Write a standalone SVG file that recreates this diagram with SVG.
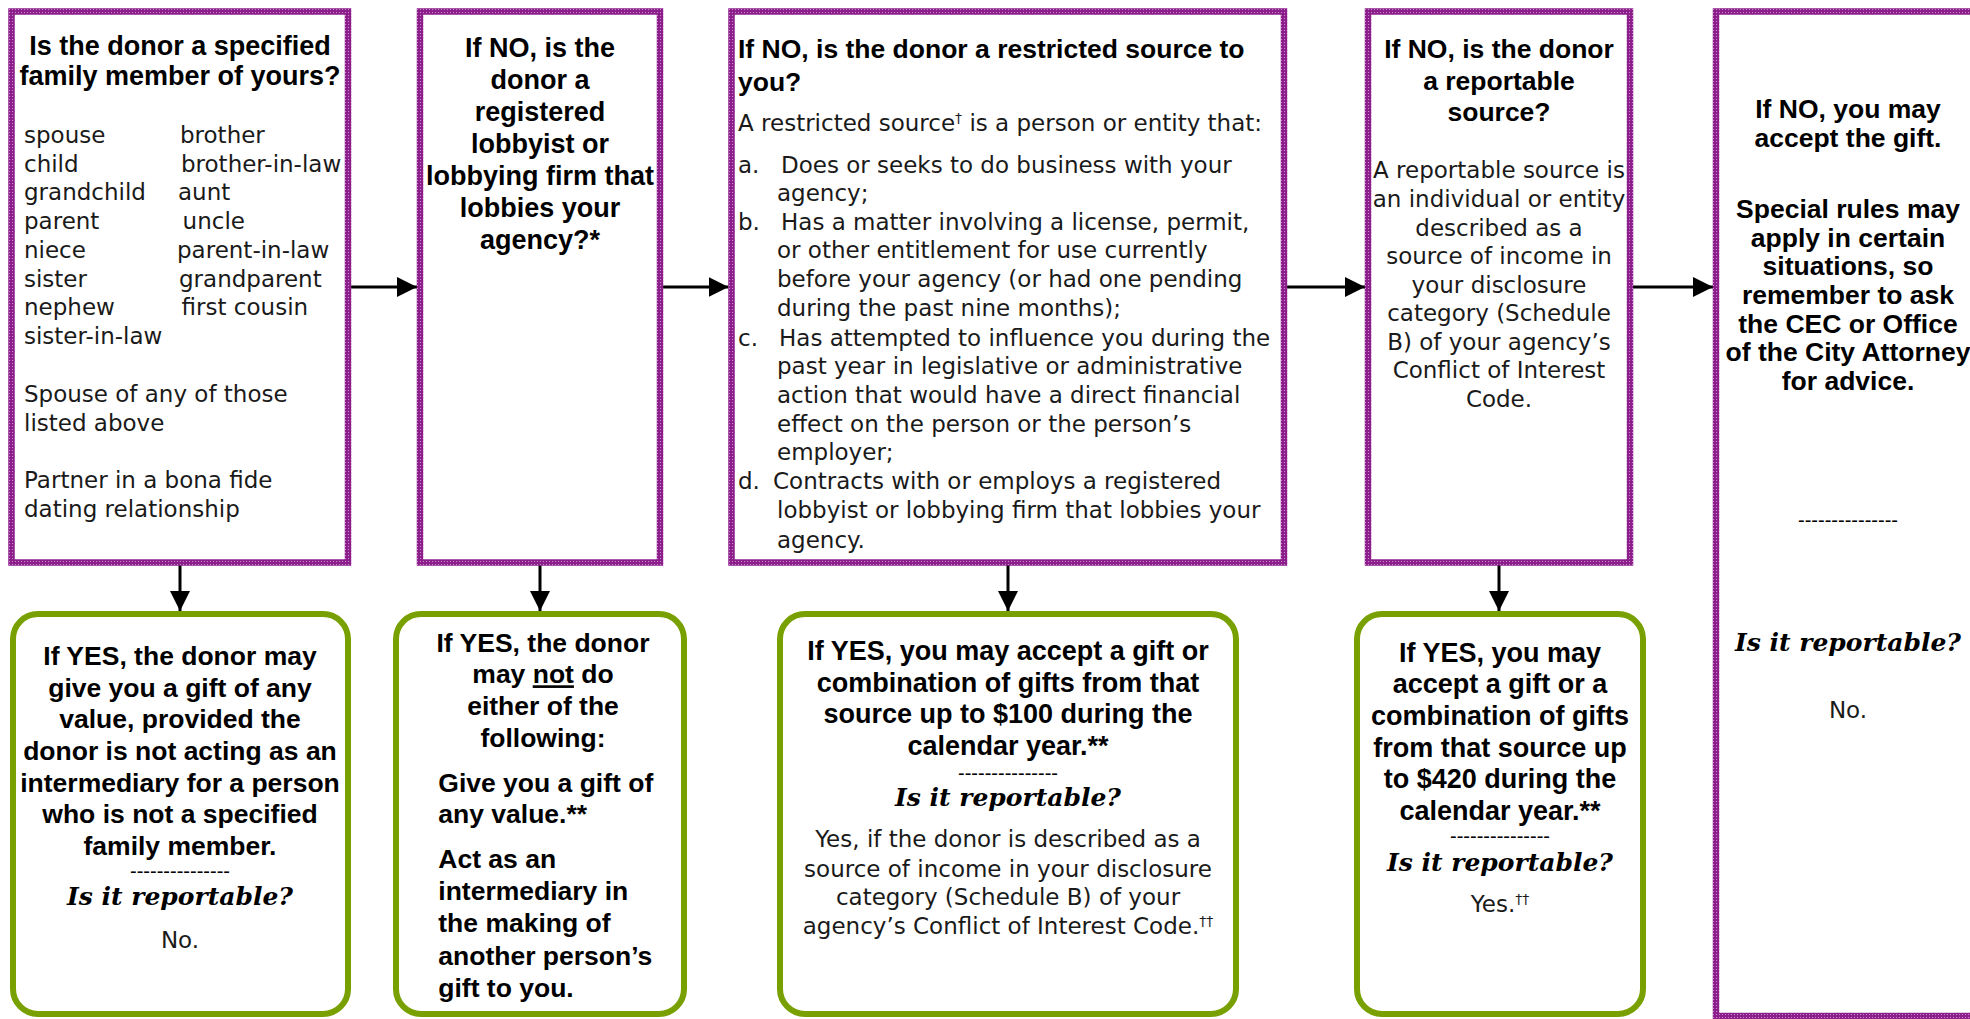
<svg xmlns="http://www.w3.org/2000/svg" width="1970" height="1019" viewBox="0 0 1970 1019">
<defs>
<pattern id="pp" width="3" height="3" patternUnits="userSpaceOnUse"><rect width="3" height="3" fill="#8c1f8c"/><rect width="1" height="1" fill="#c98ec9"/></pattern>
<marker id="ah" markerUnits="userSpaceOnUse" markerWidth="20" markerHeight="20" refX="20" refY="10" orient="auto"><path d="M0,0 L20,10 L0,20 Z" fill="#000"/></marker>
</defs>
<style>
.q{fill:#fff;stroke:url(#pp);stroke-width:6.5}
.g{fill:#fff;stroke:#78a000;stroke-width:6}
.h{font-family:"Liberation Sans",Arial,sans-serif;font-weight:bold;font-size:26.5px;fill:#000}
.b{font-family:"DejaVu Sans",sans-serif;font-size:23px;fill:#1a1a1a}
.r{font-family:"DejaVu Serif",serif;font-weight:bold;font-style:italic;font-size:25px;fill:#000}
.d{font-family:"Liberation Sans",sans-serif;font-size:20px;fill:#000}
.c{text-anchor:middle}
.s{font-size:14px}
.conn line{stroke:#000;stroke-width:3;fill:none;marker-end:url(#ah)}
</style>
<rect width="1970" height="1019" fill="#fff"/>

<g id="connectors" class="conn">
<line x1="351" y1="287" x2="417" y2="287"/>
<line x1="663" y1="287" x2="728.5" y2="287"/>
<line x1="1287" y1="287" x2="1365" y2="287"/>
<line x1="1633" y1="287" x2="1713" y2="287"/>
<line x1="180" y1="565" x2="180" y2="611"/>
<line x1="540" y1="565" x2="540" y2="611"/>
<line x1="1008" y1="565" x2="1008" y2="611"/>
<line x1="1499" y1="565" x2="1499" y2="611"/>
</g>

<g id="q1">
<rect class="q" x="11.5" y="11.5" width="336.5" height="551"/>
<text class="h c" x="180" y="55" style="font-size:27px">Is the donor a specified</text>
<text class="h c" x="180" y="85" style="font-size:27px">family member of yours?</text>
<text class="b" x="24" y="143">spouse</text><text class="b" x="180" y="143">brother</text>
<text class="b" x="24" y="171.7">child</text><text class="b" x="181" y="171.7">brother-in-law</text>
<text class="b" x="24" y="200.4">grandchild</text><text class="b" x="178" y="200.4">aunt</text>
<text class="b" x="24" y="229.1">parent</text><text class="b" x="182.6" y="229.1">uncle</text>
<text class="b" x="24" y="257.8">niece</text><text class="b" x="177" y="257.8">parent-in-law</text>
<text class="b" x="24" y="286.5">sister</text><text class="b" x="179" y="286.5">grandparent</text>
<text class="b" x="24" y="315.2">nephew</text><text class="b" x="181.6" y="315.2">first cousin</text>
<text class="b" x="24" y="343.9">sister-in-law</text>
<text class="b" x="24" y="402">Spouse of any of those</text>
<text class="b" x="24" y="430.7">listed above</text>
<text class="b" x="24" y="488">Partner in a bona fide</text>
<text class="b" x="24" y="516.7">dating relationship</text>
</g>

<g id="q2">
<rect class="q" x="420" y="11.5" width="240" height="551"/>
<text class="h c" x="540" y="56.5" style="font-size:27px">If NO, is the</text>
<text class="h c" x="540" y="88.5" style="font-size:27px">donor a</text>
<text class="h c" x="540" y="120.5" style="font-size:27px">registered</text>
<text class="h c" x="540" y="152.5" style="font-size:27px">lobbyist or</text>
<text class="h c" x="540" y="184.5" style="font-size:27px">lobbying firm that</text>
<text class="h c" x="540" y="216.5" style="font-size:27px">lobbies your</text>
<text class="h c" x="540" y="248.5" style="font-size:27px">agency?*</text>
</g>

<g id="q3">
<rect class="q" x="731.5" y="11.5" width="552.5" height="551"/>
<text class="h" x="738" y="58">If NO, is the donor a restricted source to</text>
<text class="h" x="738" y="90.5">you?</text>
<text class="b" x="738" y="131">A restricted source<tspan class="s" dy="-8">†</tspan><tspan dy="8"> is a person or entity that:</tspan></text>
<text class="b" x="738" y="172.6">a.</text><text class="b" x="781" y="172.6">Does or seeks to do business with your</text>
<text class="b" x="777" y="200.5">agency;</text>
<text class="b" x="738" y="230">b.</text><text class="b" x="781" y="230">Has a matter involving a license, permit,</text>
<text class="b" x="777" y="258">or other entitlement for use currently</text>
<text class="b" x="777" y="286.6">before your agency (or had one pending</text>
<text class="b" x="777" y="316">during the past nine months);</text>
<text class="b" x="738" y="345.7">c.</text><text class="b" x="779" y="345.7">Has attempted to influence you during the</text>
<text class="b" x="777" y="374.4">past year in legislative or administrative</text>
<text class="b" x="777" y="403">action that would have a direct financial</text>
<text class="b" x="777" y="431.7">effect on the person or the person’s</text>
<text class="b" x="777" y="460.4">employer;</text>
<text class="b" x="738" y="489">d.</text><text class="b" x="773" y="489">Contracts with or employs a registered</text>
<text class="b" x="777" y="517.8">lobbyist or lobbying firm that lobbies your</text>
<text class="b" x="777" y="548">agency.</text>
</g>

<g id="q4">
<rect class="q" x="1368" y="11.5" width="262" height="551"/>
<text class="h c" x="1499" y="58">If NO, is the donor</text>
<text class="h c" x="1499" y="90">a reportable</text>
<text class="h c" x="1499" y="121">source?</text>
<text class="b c" x="1499" y="178">A reportable source is</text>
<text class="b c" x="1499" y="207">an individual or entity</text>
<text class="b c" x="1499" y="235.6">described as a</text>
<text class="b c" x="1499" y="264">source of income in</text>
<text class="b c" x="1499" y="293">your disclosure</text>
<text class="b c" x="1499" y="321">category (Schedule</text>
<text class="b c" x="1499" y="350">B) of your agency’s</text>
<text class="b c" x="1499" y="378">Conflict of Interest</text>
<text class="b c" x="1499" y="407">Code.</text>
</g>

<g id="q5">
<rect class="q" x="1716" y="11.5" width="300" height="1004.5"/>
<text class="h c" x="1848" y="118">If NO, you may</text>
<text class="h c" x="1848" y="147">accept the gift.</text>
<text class="h c" x="1848" y="218">Special rules may</text>
<text class="h c" x="1848" y="247">apply in certain</text>
<text class="h c" x="1848" y="275">situations, so</text>
<text class="h c" x="1848" y="304">remember to ask</text>
<text class="h c" x="1848" y="332.6">the CEC or Office</text>
<text class="h c" x="1848" y="361">of the City Attorney</text>
<text class="h c" x="1848" y="390">for advice.</text>
<text class="d c" x="1848" y="527">---------------</text>
<text class="r c" x="1848" y="651">Is it reportable?</text>
<text class="b c" x="1848" y="718">No.</text>
</g>

<g id="a1">
<rect class="g" x="13" y="614" width="335" height="400" rx="25"/>
<text class="h c" x="180" y="665">If YES, the donor may</text>
<text class="h c" x="180" y="696.7">give you a gift of any</text>
<text class="h c" x="180" y="728.3">value, provided the</text>
<text class="h c" x="180" y="760">donor is not acting as an</text>
<text class="h c" x="180" y="791.7">intermediary for a person</text>
<text class="h c" x="180" y="823.3">who is not a specified</text>
<text class="h c" x="180" y="855">family member.</text>
<text class="d c" x="180" y="878">---------------</text>
<text class="r c" x="180" y="905">Is it reportable?</text>
<text class="b c" x="180" y="948">No.</text>
</g>

<g id="a2">
<rect class="g" x="396" y="614" width="288" height="400" rx="25"/>
<text class="h c" x="543" y="651.7">If YES, the donor</text>
<text class="h c" x="543" y="683.3">may <tspan text-decoration="underline">not</tspan> do</text>
<text class="h c" x="543" y="715">either of the</text>
<text class="h c" x="543" y="746.7">following:</text>
<text class="h" x="438.3" y="791.7">Give you a gift of</text>
<text class="h" x="438.3" y="823.3">any value.**</text>
<text class="h" x="438.3" y="868.3">Act as an</text>
<text class="h" x="438.3" y="900">intermediary in</text>
<text class="h" x="438.3" y="931.7">the making of</text>
<text class="h" x="438.3" y="965">another person’s</text>
<text class="h" x="438.3" y="996.7">gift to you.</text>
</g>

<g id="a3">
<rect class="g" x="780" y="614" width="456" height="400" rx="25"/>
<text class="h c" x="1008" y="660" style="font-size:27px">If YES, you may accept a gift or</text>
<text class="h c" x="1008" y="691.7" style="font-size:27px">combination of gifts from that</text>
<text class="h c" x="1008" y="723.3" style="font-size:27px">source up to $100 during the</text>
<text class="h c" x="1008" y="755" style="font-size:27px">calendar year.**</text>
<text class="d c" x="1008" y="780">---------------</text>
<text class="r c" x="1008" y="806">Is it reportable?</text>
<text class="b c" x="1008" y="847">Yes, if the donor is described as a</text>
<text class="b c" x="1008" y="877">source of income in your disclosure</text>
<text class="b c" x="1008" y="905.3">category (Schedule B) of your</text>
<text class="b c" x="1008" y="933.7">agency’s Conflict of Interest Code.<tspan class="s" dy="-8">††</tspan></text>
</g>

<g id="a4">
<rect class="g" x="1357" y="614" width="286" height="400" rx="25"/>
<text class="h c" x="1500" y="661.7" style="font-size:27px">If YES, you may</text>
<text class="h c" x="1500" y="693.3" style="font-size:27px">accept a gift or a</text>
<text class="h c" x="1500" y="725" style="font-size:27px">combination of gifts</text>
<text class="h c" x="1500" y="756.7" style="font-size:27px">from that source up</text>
<text class="h c" x="1500" y="788.3" style="font-size:27px">to $420 during the</text>
<text class="h c" x="1500" y="820" style="font-size:27px">calendar year.**</text>
<text class="d c" x="1500" y="843">---------------</text>
<text class="r c" x="1500" y="871">Is it reportable?</text>
<text class="b c" x="1500" y="912">Yes.<tspan class="s" dy="-8">††</tspan></text>
</g>
</svg>
